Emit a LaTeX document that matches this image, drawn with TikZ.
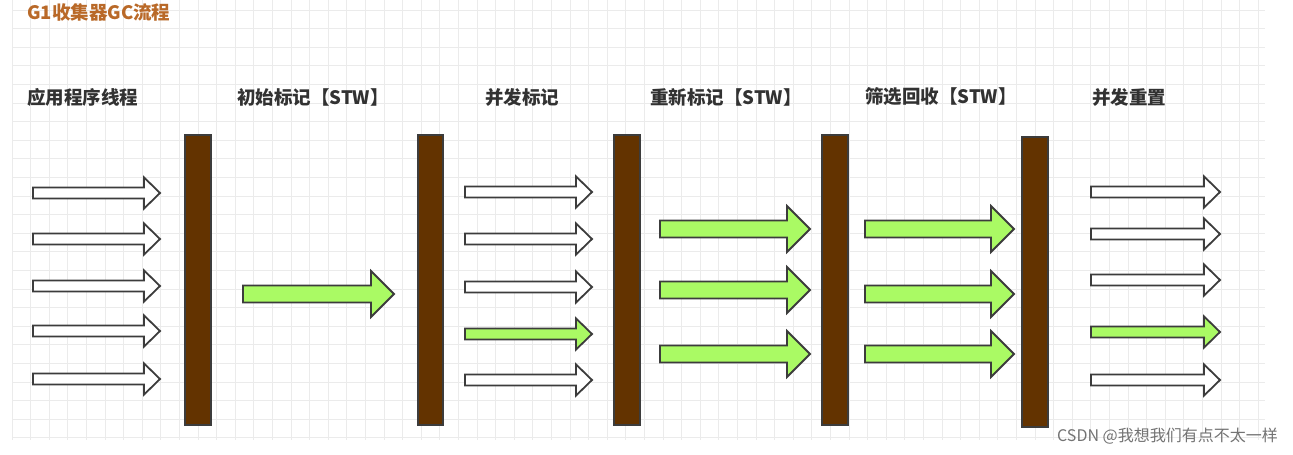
\documentclass[tikz,border=0pt]{standalone}
\usepackage{fontspec}
\newfontfamily\cjk{Noto Sans CJK SC}
\begin{document}
\begin{tikzpicture}[x=1pt,y=-1pt,
  bar/.style={fill={rgb,255:red,99;green,51;blue,0},draw={rgb,255:red,60;green,60;blue,60},line width=2pt},
  lab/.style={anchor=west,font=\cjk\bfseries\fontsize{18.5}{18.5}\selectfont,text={rgb,255:red,50;green,50;blue,50},inner sep=0pt},
  pics/arr/.style args={#1/#2/#3/#4}{code={
    \draw[line width=1.8pt,draw={rgb,255:red,60;green,60;blue,60},fill=#4,line join=miter]
      (0,-#2) -- (#1-#3,-#2) -- (#1-#3,-#2-#3*0.63) -- (#1,0) -- (#1-#3,#2+#3*0.63) -- (#1-#3,#2) -- (0,#2) -- cycle;}}]
\definecolor{gr}{RGB}{170,250,100}
\useasboundingbox (0,0) rectangle (1293,455);
\fill[white] (0,0) rectangle (1293,455);
\foreach \i in {0,...,67}{\draw[black!8,line width=0.8pt] (12+\i*18.6,0) -- (12+\i*18.6,440);}
\foreach \j in {0,...,23}{\draw[black!8,line width=0.8pt] (12,10+\j*18.6) -- (1265,10+\j*18.6);}
\node[lab,text={rgb,255:red,185;green,105;blue,40}] (title) at (27,12) {G1收集器GC流程};
\node[lab] (l1) at (27,97) {应用程序线程};
\node[lab] (l2) at (237,97) {初始标记【STW】};
\node[lab] (l3) at (485,97) {并发标记};
\node[lab] (l4) at (650,97) {重新标记【STW】};
\node[lab] (l5) at (865,97) {筛选回收【STW】};
\node[lab] (l6) at (1092,97) {并发重置};
\draw[bar] (185,135) rectangle (211,425);
\draw[bar] (418,135) rectangle (443,425);
\draw[bar] (614,135) rectangle (640,425);
\draw[bar] (822,135) rectangle (848,425);
\draw[bar] (1022,137) rectangle (1048,427);
\foreach \y in {193,239,286,331,379} \pic at (33,\y) {arr={127/5.5/16/white}};
\pic at (243,294) {arr={151/8.5/23/gr}};
\foreach \y/\c in {192/white,239/white,287/white,334/gr,380/white} \pic at (465,\y) {arr={127/5.5/16/\c}};
\foreach \y in {229,290,354} \pic at (660,\y) {arr={150/8.5/23/gr}};
\foreach \y in {229,294,354} \pic at (865,\y) {arr={149/8.5/23/gr}};
\foreach \y/\c in {192/white,234/white,280/white,332/gr,380/white} \pic at (1091,\y) {arr={129/5.5/16/\c}};
\node[anchor=east,inner sep=0pt,font=\cjk\fontsize{16}{16}\selectfont,text=black!55] (wm) at (1278,436) {CSDN @我想我们有点不太一样};
\end{tikzpicture}
\end{document}
